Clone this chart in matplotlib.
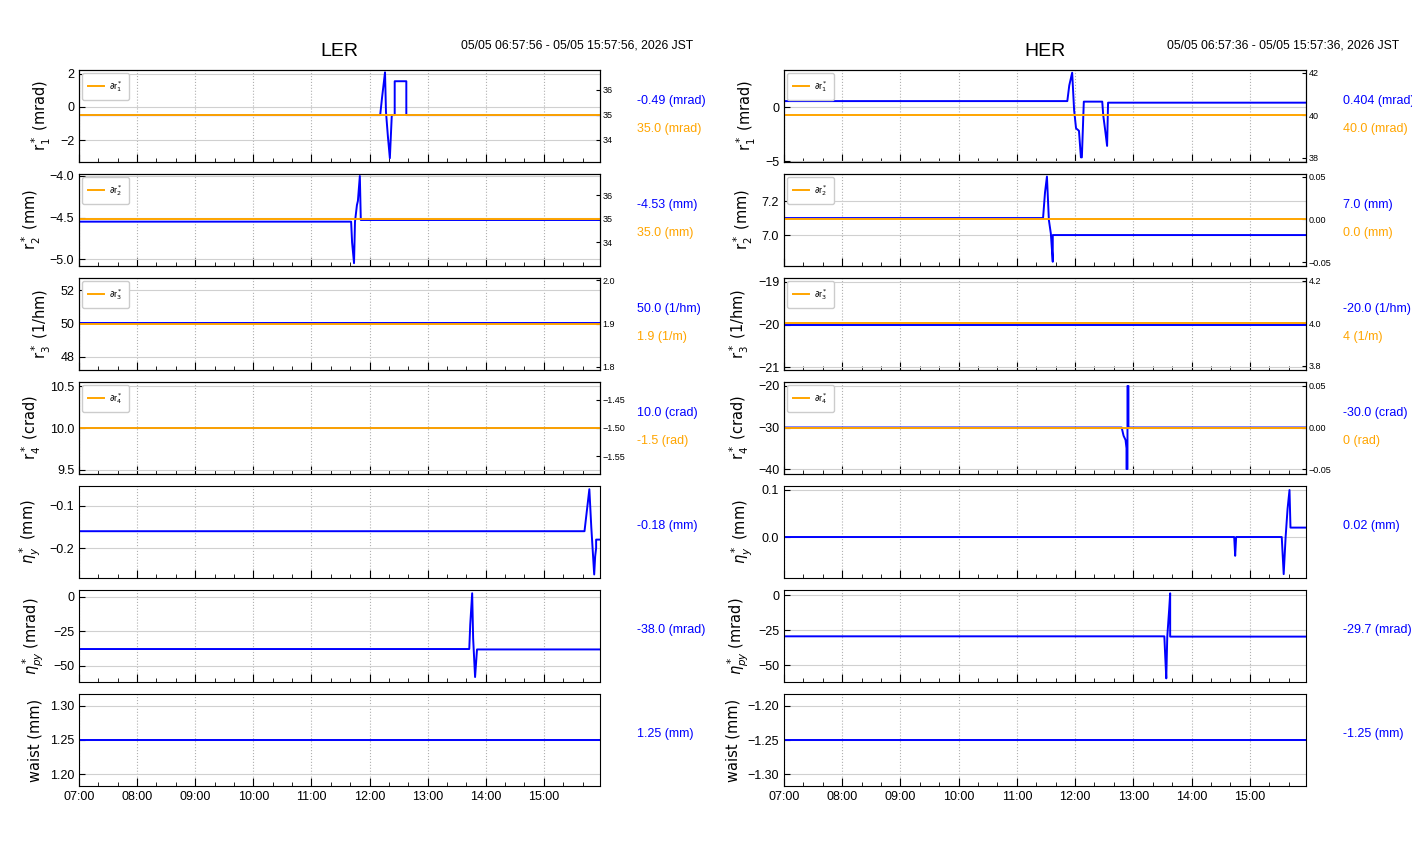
import matplotlib
matplotlib.use("Agg")
import matplotlib.pyplot as plt
import matplotlib.dates as mdates
import matplotlib.ticker as mticker
import pandas as pd

NARROW = ["Liberation Sans Narrow", "Liberation Sans", "DejaVu Sans"]
plt.rcParams["font.family"] = NARROW
plt.rcParams["xtick.direction"] = "in"
plt.rcParams["ytick.direction"] = "in"

DAY = "2026-05-05 "
T_SPAN = ["06:58", "15:58"]

# ---- LER ----
ler_r1_t = ["06:58", "12:11", "12:13", "12:15", "12:16", "12:17", "12:19", "12:21",
            "12:23", "12:26", "12:26", "12:38", "12:38", "15:58"]
ler_r1 = [-0.49, -0.49, 0.6, 1.6, 2.1, -0.3, -1.8, -3.1,
          -0.49, -0.49, 1.56, 1.56, -0.49, -0.49]
ler_r2_t = ["06:58", "11:41", "11:42", "11:44", "11:45", "11:47", "11:48", "11:50", "11:51", "15:58"]
ler_r2 = [-4.55, -4.55, -4.8, -5.05, -4.55, -4.35, -4.3, -4.0, -4.53, -4.53]
ler_r3 = [50.0, 50.0]
ler_r4 = [10.0, 10.0]
ler_ny_t = ["06:58", "15:42", "15:44", "15:47", "15:49", "15:52", "15:53", "15:54", "15:54", "15:58"]
ler_ny = [-0.16, -0.16, -0.12, -0.06, -0.15, -0.263, -0.22, -0.2, -0.18, -0.18]
ler_npy_t = ["06:58", "13:43", "13:44", "13:46", "13:47", "13:49", "13:51", "15:58"]
ler_npy = [-37.7, -37.7, -20, 2.7, -30, -58, -38, -38]
ler_waist = [1.25, 1.25]
ler_dr = [35.0, 35.0, 1.9, -1.5]

# ---- HER ----
her_r1_t = ["06:58", "11:52", "11:54", "11:57", "11:59", "12:01", "12:04", "12:06", "12:07",
            "12:09", "12:28", "12:29", "12:31", "12:33", "12:34", "15:58"]
her_r1 = [0.55, 0.55, 2.0, 3.18, -0.28, -1.97, -2.2, -4.66, -4.66,
          0.5, 0.5, -0.74, -2.13, -3.6, 0.404, 0.404]
her_r2_t = ["06:58", "11:27", "11:29", "11:31", "11:33", "11:35", "11:37", "11:37", "15:58"]
her_r2 = [7.10, 7.10, 7.25, 7.344, 7.088, 7.01, 6.843, 7.0, 7.0]
her_r3 = [-20.0, -20.0]
her_r4_t = ["06:58", "12:48", "12:50", "12:52", "12:53", "12:53", "12:54", "12:54", "12:55", "12:55", "15:58"]
her_r4 = [-30, -30, -32, -33, -35, -40, -40, -20, -20, -30, -30]
her_ny_t = ["06:58", "14:44", "14:45", "14:46", "15:33", "15:35", "15:37", "15:39", "15:41", "15:42", "15:58"]
her_ny = [0.0, 0.0, -0.04, 0.0, 0.0, -0.079, 0.0, 0.06, 0.1, 0.02, 0.02]
her_npy_t = ["06:58", "13:32", "13:33", "13:34", "13:35", "13:37", "13:38", "13:38", "15:58"]
her_npy = [-29.5, -29.5, -45, -59.5, -30, -10, 1.2, -29.7, -29.7]
her_waist = [-1.25, -1.25]
her_dr = [40.0, 0.0, 4.0, 0.0]

ylabels = [r"r$_1^*$ (mrad)", r"r$_2^*$ (mm)", r"r$_3^*$ (1/hm)", r"r$_4^*$ (crad)",
           r"$\eta_y^*$ (mm)", r"$\eta_{py}^*$ (mrad)", "waist (mm)"]
legend_labels = [r"$\partial$r$_1^*$", r"$\partial$r$_2^*$", r"$\partial$r$_3^*$", r"$\partial$r$_4^*$"]

ler_text = [["-0.49 (mrad)", "35.0 (mrad)"], ["-4.53 (mm)", "35.0 (mm)"],
            ["50.0 (1/hm)", "1.9 (1/m)"], ["10.0 (crad)", "-1.5 (rad)"],
            ["-0.18 (mm)"], ["-38.0 (mrad)"], ["1.25 (mm)"]]
her_text = [["0.404 (mrad)", "40.0 (mrad)"], ["7.0 (mm)", "0.0 (mm)"],
            ["-20.0 (1/hm)", "4 (1/m)"], ["-30.0 (crad)", "0 (rad)"],
            ["0.02 (mm)"], ["-29.7 (mrad)"], ["-1.25 (mm)"]]


def tt(lst):
    return pd.to_datetime([DAY + t for t in lst])


def minus_fmt(fmt):
    return mticker.FuncFormatter(lambda v, pos: (fmt % v).replace("-", "\u2212"))


ler = dict(
    name="LER", left=79, width=521,
    span="05/05 06:57:56 - 05/05 15:57:56, 2026 JST",
    series=[(ler_r1_t, ler_r1), (ler_r2_t, ler_r2), (T_SPAN, ler_r3), (T_SPAN, ler_r4),
            (ler_ny_t, ler_ny), (ler_npy_t, ler_npy), (T_SPAN, ler_waist)],
    dr=ler_dr, text=ler_text,
    ylim=[(-3.33, 2.24), (-5.084, -3.976), (47.22, 52.72), (9.452, 10.548),
          (-0.2714, -0.0524), (-61.6, 5.07), (1.1824, 1.3176)],
    yticks=[[-2, 0, 2], [-5.0, -4.5, -4.0], [48, 50, 52], [9.5, 10.0, 10.5],
            [-0.2, -0.1], [-50, -25, 0], [1.20, 1.25, 1.30]],
    yfmt=["%d", "%.1f", "%d", "%.1f", "%.1f", "%d", "%.2f"],
    rlim=[(33.12, 36.8), (33.0, 36.91), (1.793, 2.005), (-1.582, -1.418)],
    rticks=[[34, 35, 36], [34, 35, 36], [1.8, 1.9, 2.0], [-1.55, -1.50, -1.45]],
    rfmt=["%d", "%d", "%.1f", "%.2f"],
)
her = dict(
    name="HER", left=784, width=522,
    span="05/05 06:57:36 - 05/05 15:57:36, 2026 JST",
    series=[(her_r1_t, her_r1), (her_r2_t, her_r2), (T_SPAN, her_r3), (her_r4_t, her_r4),
            (her_ny_t, her_ny), (her_npy_t, her_npy), (T_SPAN, her_waist)],
    dr=her_dr, text=her_text,
    ylim=[(-5.09, 3.43), (6.818, 7.359), (-21.07, -18.906), (-41.2, -19.04),
          (-0.0872, 0.1085), (-62.1, 3.57), (-1.3176, -1.1824)],
    yticks=[[-5, 0], [7.0, 7.2], [-21, -20, -19], [-40, -30, -20],
            [0.0, 0.1], [-50, -25, 0], [-1.30, -1.25, -1.20]],
    yfmt=["%d", "%.1f", "%d", "%d", "%.1f", "%d", "%.2f"],
    rlim=[(37.81, 42.14), (-0.0547, 0.0535), (3.781, 4.214), (-0.056, 0.0548)],
    rticks=[[38, 40, 42], [-0.05, 0.0, 0.05], [3.8, 4.0, 4.2], [-0.05, 0.0, 0.05]],
    rfmt=["%d", "%.2f", "%.1f", "%.2f"],
)

W, H = 1412, 864
fig = plt.figure(figsize=(W / 100, H / 100), dpi=100)
xlim = tt(["07:00", "15:58"])

for m in (ler, her):
    for i in range(7):
        top = 70 + 104 * i
        ax = fig.add_axes([m["left"] / W, 1 - (top + 92) / H, m["width"] / W, 92 / H])
        t, v = m["series"][i]
        ax.plot(tt(t), v, color="blue", lw=1.4)
        ax.set_xlim(xlim)
        ax.set_ylim(m["ylim"][i])
        ax.set_yticks(m["yticks"][i])
        ax.yaxis.set_major_formatter(minus_fmt(m["yfmt"][i]))
        ax.xaxis.set_major_locator(mdates.HourLocator())
        ax.xaxis.set_minor_locator(mdates.MinuteLocator(byminute=[20, 40]))
        ax.xaxis.set_major_formatter(mdates.DateFormatter("%H:%M"))
        ax.tick_params(axis="x", which="major", length=6, labelsize=9)
        ax.tick_params(axis="x", which="minor", length=3)
        ax.tick_params(axis="y", length=4, labelsize=9)
        ax.grid(axis="y", color="#d0d0d0", lw=0.8)
        ax.grid(axis="x", color="#b0b0b0", lw=0.8, ls=":")
        if i < 6:
            ax.tick_params(axis="x", labelbottom=False)
        ax.set_ylabel(ylabels[i], family="DejaVu Sans", fontsize=10.5, labelpad=5)

        if i < 4:
            ax2 = ax.twinx()
            ax2.plot(tt(T_SPAN), [m["dr"][i]] * 2, color="orange", lw=1.4,
                     label=legend_labels[i])
            ax2.set_ylim(m["rlim"][i])
            ax2.set_yticks(m["rticks"][i])
            ax2.yaxis.set_major_formatter(minus_fmt(m["rfmt"][i]))
            ax2.tick_params(axis="y", length=3, labelsize=6.5, pad=2)
            ax2.set_xlim(xlim)
            ax2.legend(loc="upper left", fontsize=6.5, handlelength=1.8,
                       handletextpad=0.5, borderpad=0.7, borderaxespad=0.3,
                       framealpha=1)

        txt = m["text"][i]
        if len(txt) == 2:
            ax.annotate(txt[0], xy=(1, 0.5), xycoords="axes fraction",
                        xytext=(37 * 0.72, 15 * 0.72), textcoords="offset points",
                        color="blue", fontsize=9, va="center", ha="left")
            ax.annotate(txt[1], xy=(1, 0.5), xycoords="axes fraction",
                        xytext=(37 * 0.72, -13 * 0.72), textcoords="offset points",
                        color="orange", fontsize=9, va="center", ha="left")
        else:
            ax.annotate(txt[0], xy=(1, 0.5), xycoords="axes fraction",
                        xytext=(37 * 0.72, 6 * 0.72), textcoords="offset points",
                        color="blue", fontsize=9, va="center", ha="left")

    cx = (m["left"] + m["width"] / 2) / W
    fig.text(cx, 1 - 51 / H, m["name"], ha="center", va="center", fontsize=14)
    fig.text((m["left"] + m["width"] + 93) / W, 1 - 46 / H, m["span"],
             ha="right", va="center", fontsize=8.7)

fig.savefig("out.png", dpi=100)
